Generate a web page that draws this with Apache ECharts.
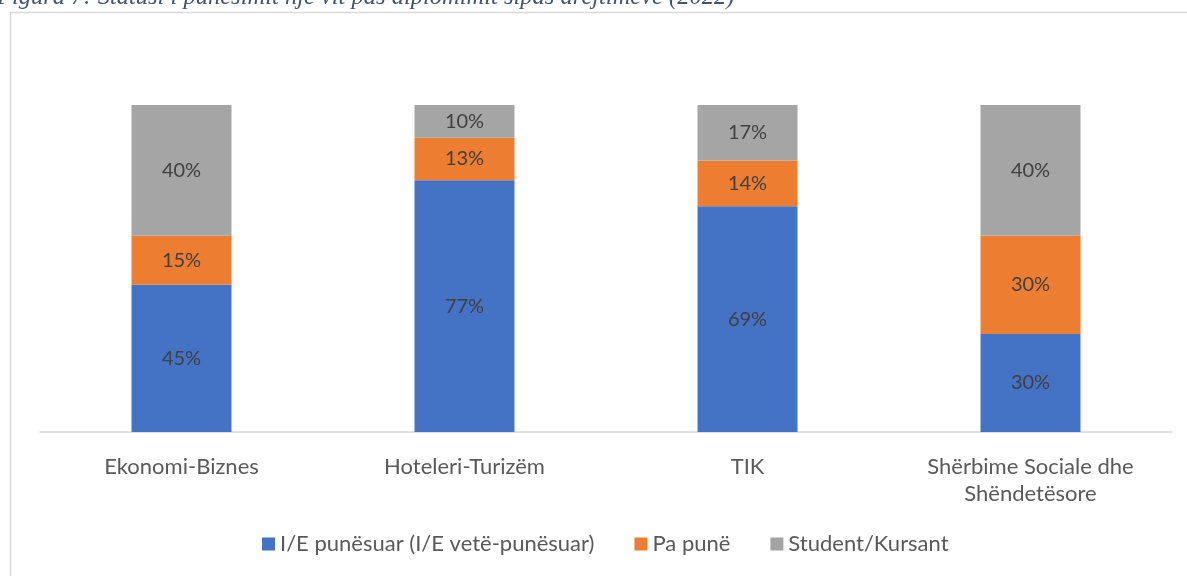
<!DOCTYPE html>
<html>
<head>
<meta charset="utf-8">
<script src="https://cdn.jsdelivr.net/npm/echarts@6/dist/echarts.min.js"></script>
<style>
html,body{margin:0;padding:0;background:#fff;}
#c{width:1187px;height:576px;}
</style>
</head>
<body>
<div id="c"></div>
<script>
const categories = ['Ekonomi-Biznes', 'Hoteleri-Turizëm', 'TIK', 'Shërbime Sociale dhe\nShëndetësore'];
const employed = [45, 77, 69, 30];
const unemployed = [15, 13, 14, 30];
const students = [40, 10, 17, 40];
const seriesNames = ['I/E punësuar (I/E vetë-punësuar)', 'Pa punë', 'Student/Kursant'];
const titleText = 'Figura 7: Statusi i punësimit një vit pas diplomimit sipas drejtimeve (2022)';

const chart = echarts.init(document.getElementById('c'));
const font = 'Lato, "Open Sans", sans-serif';
const lbl = {
  show: true, position: 'inside', formatter: p => p.value + '%',
  color: '#404040', fontSize: 20, fontFamily: font
};
function mk(name, data, color) {
  return {
    name, type: 'bar', stack: 'a', data, barWidth: 100,
    itemStyle: { color }, label: lbl, emphasis: { disabled: true }
  };
}
chart.setOption({
  animation: false,
  graphic: [
    { type: 'rect', shape: { x: 10.5, y: 12.5, width: 1300, height: 700 },
      style: { fill: 'none', stroke: '#d9d9d9', lineWidth: 1.5 }, silent: true },
    { type: 'text', style: { x: -3, y: -2, text: titleText, fill: '#44546a',
      font: 'italic 24.5px "Liberation Serif", serif', textVerticalAlign: 'middle' }, silent: true }
  ],
  grid: { left: 40, right: 15, top: 105, bottom: 144, containLabel: false },
  legend: {
    bottom: 16, left: 257, itemWidth: 13, itemHeight: 13, itemGap: 40,
    icon: 'rect',
    textStyle: { color: '#595959', fontSize: 22, fontFamily: font },
    data: seriesNames
  },
  xAxis: {
    type: 'category', data: categories,
    axisLine: { lineStyle: { color: '#d9d9d9', width: 1.5 } },
    axisTick: { show: false },
    axisLabel: { color: '#595959', fontSize: 22, fontFamily: font, margin: 21, lineHeight: 27, interval: 0 }
  },
  yAxis: { type: 'value', min: 0, max: 100, show: false, splitLine: { show: false } },
  series: [
    mk(seriesNames[0], employed, '#4472c4'),
    mk(seriesNames[1], unemployed, '#ed7d31'),
    mk(seriesNames[2], students, '#a5a5a5')
  ]
});
</script>
</body>
</html>
